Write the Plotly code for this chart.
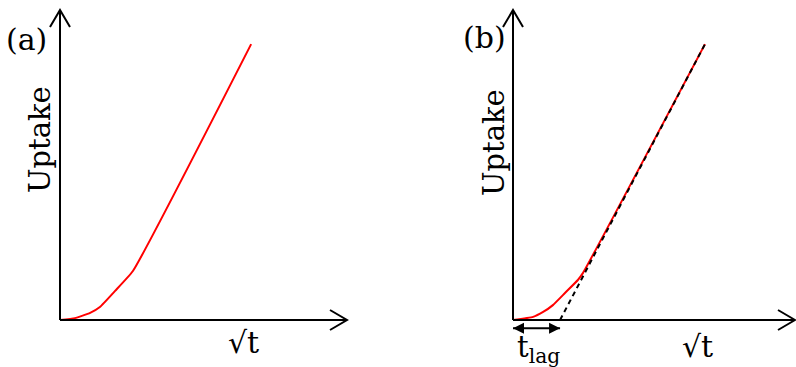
import plotly.graph_objects as go

# ---- data (arbitrary units) ----
curve_a_x = [0, 0.52, 1.05, 1.39, 1.92, 2.54, 6.66]
curve_a_y = [0, 0.06, 0.23, 0.42, 0.94, 1.58, 8.9]

curve_b_x = [0, 0.70, 1.05, 1.39, 1.81, 2.26, 2.44, 6.69]
curve_b_y = [0, 0.10, 0.26, 0.48, 0.87, 1.29, 1.52, 8.9]

fit_b_x = [1.64, 6.69]
fit_b_y = [0, 8.9]

t_lag = 1.64
lag_arrow_y = -0.27

W, H = 796, 367
SX, SY = 28.7, 31.0
FONT = "DejaVu Serif"
RED = "#ff0000"


def P(px, py):
    return px / W, 1 - py / H


def axes_cfg(x0, y0, left, right, top, bottom):
    xa = dict(domain=[left / W, right / W], range=[(left - x0) / SX, (right - x0) / SX],
              visible=False, fixedrange=True)
    ya = dict(domain=[1 - bottom / H, 1 - top / H], range=[(y0 - bottom) / SY, (y0 - top) / SY],
              visible=False, fixedrange=True)
    return xa, ya


xa1, ya1 = axes_cfg(60, 320, 50, 352, 3, 345)
xa2, ya2 = axes_cfg(513, 320, 503, 796, 3, 345)
ya2["anchor"] = "x2"
xa2["anchor"] = "y2"

fig = go.Figure()
fig.add_trace(go.Scatter(x=curve_a_x, y=curve_a_y, mode="lines",
                         line=dict(color=RED, width=2, shape="spline", smoothing=0.4),
                         xaxis="x", yaxis="y", hoverinfo="skip"))
fig.add_trace(go.Scatter(x=curve_b_x, y=curve_b_y, mode="lines",
                         line=dict(color=RED, width=2, shape="spline", smoothing=0.4),
                         xaxis="x2", yaxis="y2", hoverinfo="skip"))
fig.add_trace(go.Scatter(x=fit_b_x, y=fit_b_y, mode="lines",
                         line=dict(color="black", width=2, dash="5px,4px"),
                         xaxis="x2", yaxis="y2", hoverinfo="skip"))
# t_lag double arrow
fig.add_trace(go.Scatter(x=[0, t_lag], y=[lag_arrow_y, lag_arrow_y], mode="lines+markers",
                         line=dict(color="black", width=2),
                         marker=dict(symbol=["arrow-left", "arrow-right"], size=11, color="black",
                                     line=dict(width=0)),
                         cliponaxis=False, xaxis="x2", yaxis="y2", hoverinfo="skip"))

shapes = []


def seg(p1, p2):
    a = P(*p1)
    b = P(*p2)
    shapes.append(dict(type="line", xref="paper", yref="paper", x0=a[0], y0=a[1], x1=b[0], y1=b[1],
                       line=dict(color="black", width=2)))


def chevron(pts):
    path = "M " + " L ".join(f"{P(*p)[0]},{P(*p)[1]}" for p in pts)
    shapes.append(dict(type="path", xref="paper", yref="paper", path=path,
                       line=dict(color="black", width=2)))


for ox, xend in [(60, 347), (513, 795)]:
    seg((ox, 320), (ox, 10))
    seg((ox, 320), (xend, 320))
    chevron([(ox - 10, 27), (ox, 10), (ox + 10, 27)])
    chevron([(xend - 17, 310), (xend, 320), (xend - 17, 330)])

annotations = []


def text(s, px, py, size=29, angle=0):
    x, y = P(px, py)
    annotations.append(dict(text=s, x=x, y=y, xref="paper", yref="paper", showarrow=False,
                            font=dict(family=FONT, size=size, color="black"), textangle=angle,
                            xanchor="center", yanchor="middle"))


text("(a)", 26, 39, size=30)
text("(b)", 484, 38, size=30)
text("Uptake", 40, 140, size=29, angle=-90)
text("Uptake", 494, 143, size=29, angle=-90)
text("√t", 243, 342, size=30)
text("√t", 697, 346, size=30)
text("t<sub>lag</sub>", 538, 349, size=29)

fig.update_layout(width=W, height=H, margin=dict(l=0, r=0, t=0, b=0),
                  paper_bgcolor="white", plot_bgcolor="white", showlegend=False,
                  xaxis=xa1, yaxis=ya1, xaxis2=xa2, yaxis2=ya2,
                  shapes=shapes, annotations=annotations)

fig.write_html("out.html")
